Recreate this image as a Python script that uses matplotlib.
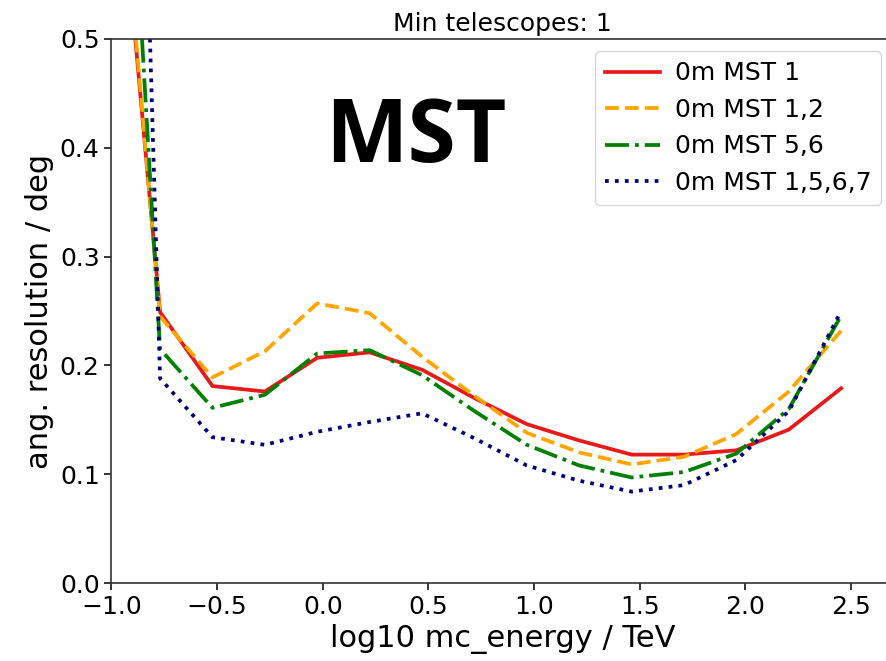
import matplotlib
matplotlib.use("Agg")
import matplotlib.pyplot as plt
import numpy as np

# bin centres (log10 E / TeV)
log_energy = [-1.018, -0.77, -0.522, -0.274, -0.026, 0.222, 0.470, 0.718,
              0.966, 1.214, 1.462, 1.710, 1.958, 2.206, 2.454]

# angular resolution / deg for each telescope selection
res_mst1 = [0.78, 0.249, 0.181, 0.176, 0.207, 0.212, 0.196, 0.170,
            0.146, 0.131, 0.118, 0.118, 0.122, 0.141, 0.179]
res_mst12 = [0.80, 0.245, 0.189, 0.213, 0.257, 0.248, 0.208, 0.172,
             0.138, 0.120, 0.109, 0.116, 0.137, 0.176, 0.232]
res_mst56 = [1.04, 0.215, 0.161, 0.173, 0.211, 0.214, 0.191, 0.158,
             0.127, 0.108, 0.097, 0.102, 0.119, 0.160, 0.246]
res_mst1567 = [1.80, 0.188, 0.134, 0.127, 0.139, 0.148, 0.156, 0.133,
               0.108, 0.094, 0.084, 0.090, 0.113, 0.158, 0.250]

labels = ["0m MST 1", "0m MST 1,2", "0m MST 5,6", "0m MST 1,5,6,7"]
colors = ["#e8191a", "orange", "green", "navy"]
styles = ["-", "--", "-.", ":"]

fig = plt.figure(figsize=(8.87, 6.61), dpi=100)
ax = fig.add_axes([0.1257, 0.118, 0.882, 0.823])

all_res = [res_mst1, res_mst12, res_mst56, res_mst1567]
for i, res in enumerate(all_res):
    ax.plot(log_energy, res, linestyle=styles[i], color=colors[i],
            linewidth=2.7, label=labels[i])

ax.set_xlim(-1.0, 2.703)
ax.set_ylim(0.0, 0.5)
ax.set_xticks(np.arange(-1.0, 2.51, 0.5))
ax.set_yticks(np.arange(0.0, 0.51, 0.1))
ax.tick_params(labelsize=18, length=5, width=1.1)
for sp in ax.spines.values():
    sp.set_linewidth(1.2)
    sp.set_color("#333333")

ax.set_xlabel("log10 mc_energy / TeV", fontsize=22)
ax.set_ylabel("ang. resolution / deg", fontsize=22)
ax.set_title("Min telescopes: 1", fontsize=18)

ax.legend(loc="upper right", fontsize=18, labelspacing=0.5,
          handlelength=2.2, handletextpad=0.6)

ax.text(0.389, 0.774, "MST", transform=ax.transAxes, ha="center",
        va="baseline", fontsize=63, fontweight="bold", family="Open Sans")

plt.savefig("out.png", dpi=100)
